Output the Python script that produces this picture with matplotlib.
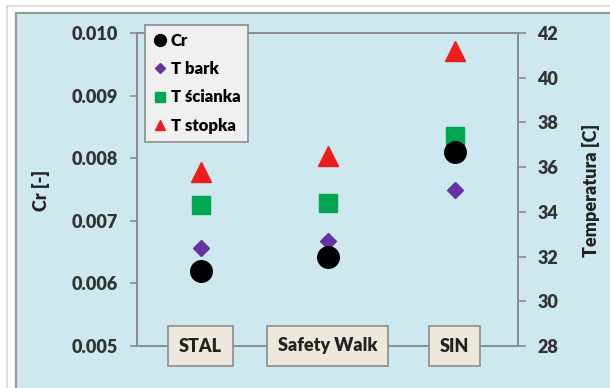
import matplotlib
matplotlib.use("Agg")
import matplotlib.pyplot as plt
from matplotlib.patches import Rectangle
from matplotlib.ticker import FormatStrFormatter, MultipleLocator

# Surfaces tested
categories = ["STAL", "Safety Walk", "SIN"]

# Friction coefficient (left axis)
cr = [0.0062, 0.00642, 0.0081]

# Temperatures (right axis), °C
t_bark = [32.4, 32.7, 35.0]
t_scianka = [34.3, 34.4, 37.4]
t_stopka = [35.8, 36.5, 41.2]

WEIGHT = "heavy"
FS = 13
plt.rcParams["font.family"] = ["Lato", "DejaVu Sans"]
plt.rcParams["font.weight"] = WEIGHT

W, H = 610, 388
fig = plt.figure(figsize=(W / 100, H / 100), dpi=100)
fig.patch.set_facecolor("white")

def fx(px):
    return px / W

def fy(py):
    return 1 - py / H

# outer light frame and blue chart panel
fig.patches.append(Rectangle((fx(7), fy(H + 10)), 1, fy(6) - fy(H + 10),
                             transform=fig.transFigure, facecolor="white",
                             edgecolor="#d8d8d8", lw=1.2, zorder=-2))
fig.patches.append(Rectangle((fx(16), fy(H + 10)), 1, fy(13) - fy(H + 10),
                             transform=fig.transFigure, facecolor="#cde8ee",
                             edgecolor="#9a9a9a", lw=1.6, zorder=-1))

left, right, top, bottom = 137, 518, 33, 346
rect = [fx(left), fy(bottom), fx(right) - fx(left), fy(top) - fy(bottom)]
ax = fig.add_axes(rect)
ax2 = ax.twinx()

# left axis drawn above the twin so Cr markers sit on top
ax.set_zorder(ax2.get_zorder() + 1)
ax.patch.set_visible(False)
ax2.patch.set_facecolor("white")

x = list(range(len(categories)))
for a in (ax, ax2):
    a.set_xlim(-0.5, len(categories) - 0.5)

h_bark, = ax2.plot(x, t_bark, ls="none", marker="D", ms=8.5, color="#6633a0", label="T bark")
h_sc, = ax2.plot(x, t_scianka, ls="none", marker="s", ms=13, color="#00a651", label="T ścianka")
h_st, = ax2.plot(x, t_stopka, ls="none", marker="^", ms=14, color="#ee1c1c", label="T stopka")
h_cr, = ax.plot(x, cr, ls="none", marker="o", ms=15.5, color="black", label="Cr")

ax.set_ylim(0.005, 0.010)
ax.yaxis.set_major_locator(MultipleLocator(0.001))
ax.yaxis.set_major_formatter(FormatStrFormatter("%.3f"))
ax2.set_ylim(28, 42)
ax2.yaxis.set_major_locator(MultipleLocator(2))

spine_col = "#8c8c8c"
for a in (ax, ax2):
    for s in a.spines.values():
        s.set_color(spine_col)
        s.set_linewidth(1.2)
    a.set_xticks([])

ax.tick_params(axis="y", direction="out", length=5, width=1.2, color=spine_col,
               pad=9, labelsize=FS, labelcolor="#333333")
ax2.tick_params(axis="y", direction="out", length=6, width=1.2, color=spine_col,
                pad=8, labelsize=FS, labelcolor="#333333")
for lab in ax.get_yticklabels() + ax2.get_yticklabels():
    lab.set_fontweight(WEIGHT)

# category labels in boxes on the bottom axis
for xi, name in zip(x, categories):
    ax.text(xi, 0.005, name, ha="center", va="center", fontsize=FS,
            fontweight=WEIGHT, color="#222222", clip_on=False, zorder=10,
            bbox=dict(boxstyle="square,pad=0.62", facecolor="#ece9dc",
                      edgecolor="#8c8c8c", lw=1.2))

fig.text(fx(41), fy(190), "Cr [-]", rotation=90, ha="center", va="center",
         fontsize=FS, fontweight=WEIGHT, color="#222222")
fig.text(fx(591), fy(190), "Temperatura [C]", rotation=90, ha="center", va="center",
         fontsize=FS, fontweight=WEIGHT, color="#222222")

leg = ax.legend(handles=[h_cr, h_bark, h_sc, h_st], loc="upper left",
                bbox_to_anchor=(fx(145), fy(25)), bbox_transform=fig.transFigure,
                markerscale=0.55, handlelength=0.9, handletextpad=0.2,
                labelspacing=0.75, borderpad=0.45, borderaxespad=0,
                fancybox=False, framealpha=1, prop=dict(weight=WEIGHT, size=12))
leg.get_frame().set_facecolor("#f0f0f0")
leg.get_frame().set_edgecolor("#8c8c8c")
leg.get_frame().set_linewidth(1.2)
leg.set_zorder(20)

fig.savefig("out.png", dpi=100)
